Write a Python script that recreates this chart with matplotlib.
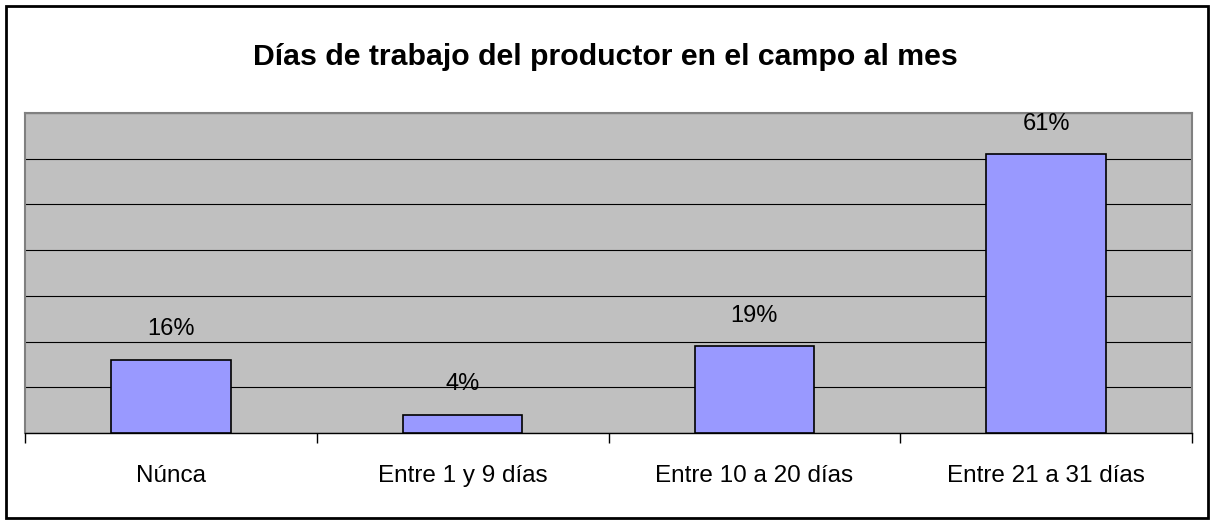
import matplotlib.pyplot as plt
from matplotlib.patches import Rectangle

# Datos
categorias = ['Núnca', 'Entre 1 y 9 días', 'Entre 10 a 20 días', 'Entre 21 a 31 días']
porcentajes = [16, 4, 19, 61]
etiquetas = ['16%', '4%', '19%', '61%']

plt.rcParams['font.family'] = ['Liberation Sans', 'DejaVu Sans']

fig = plt.figure(figsize=(12.1, 5.23), dpi=100)
W, H = 1210, 523

# Marco exterior
fig.patches.append(Rectangle((6 / W, 5 / H), 1202 / W, 512 / H, transform=fig.transFigure,
                             fill=False, edgecolor='black', linewidth=2))

ax = fig.add_axes([25 / W, 1 - 433 / H, 1167 / W, 320 / H])
ax.set_facecolor('#c0c0c0')

x = range(len(categorias))
ax.bar(x, porcentajes, width=0.41, color='#9999ff', edgecolor='black', linewidth=1.2, zorder=3)

for i, (v, t) in enumerate(zip(porcentajes, etiquetas)):
    ax.annotate(t, (i, v), xytext=(0, 14), textcoords='offset points',
                ha='center', va='bottom', fontsize=17)

ax.set_xlim(-0.5, len(categorias) - 0.5)
ax.set_ylim(0, 70)
ax.set_yticks(range(0, 71, 10))
ax.yaxis.grid(True, color='black', linewidth=0.8, zorder=0)
ax.tick_params(axis='y', left=False, labelleft=False)

ax.set_xticks(x)
ax.set_xticklabels(categorias, fontsize=17.5)
ax.tick_params(axis='x', length=0, pad=23)
ax.set_xticks([i + 0.5 for i in range(-1, len(categorias))], minor=True)
ax.tick_params(axis='x', which='minor', length=7, width=1, color='black', direction='out')

for s in ['top', 'left', 'right']:
    ax.spines[s].set_color('#808080')
    ax.spines[s].set_linewidth(1.5)
ax.spines['bottom'].set_color('black')
ax.spines['bottom'].set_linewidth(1)

fig.text(0.5, 1 - 57 / H, 'Días de trabajo del productor en el campo al mes',
         ha='center', va='center', fontsize=21.8, fontweight='bold')

fig.savefig('out.png', dpi=100)
